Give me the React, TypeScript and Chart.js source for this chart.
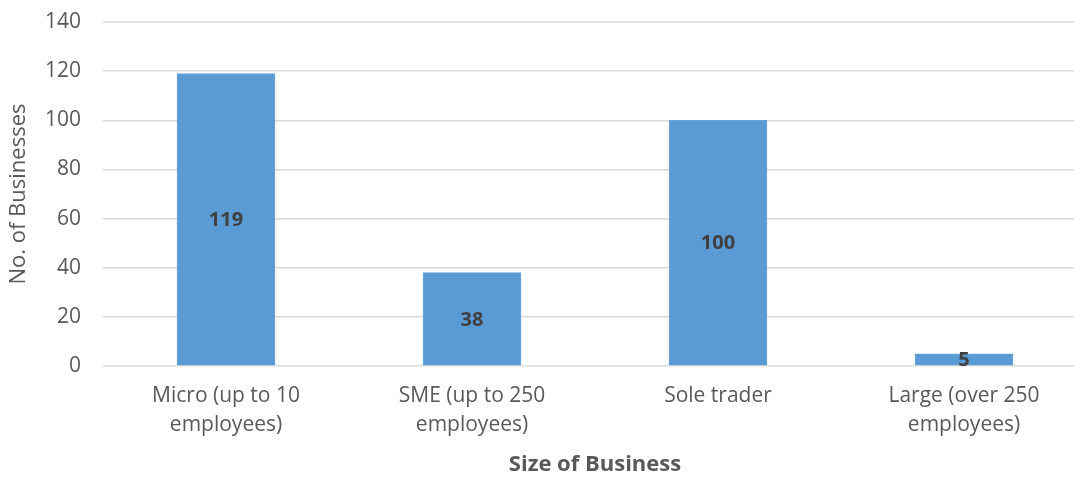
import React, { useEffect, useRef } from "react";
import { Chart, registerables } from "chart.js";

Chart.register(...registerables);

const categories: string[][] = [
  ["Micro (up to 10", "employees)"],
  ["SME (up to 250", "employees)"],
  ["Sole trader"],
  ["Large (over 250", "employees)"],
];
const businessCounts: number[] = [119, 38, 100, 5];
const yTicks: number[] = [0, 20, 40, 60, 80, 100, 120, 140];

const FONT = "'Open Sans', 'DejaVu Sans', sans-serif";

const barLabelPlugin = {
  id: "barLabels",
  afterDatasetsDraw(chart: any) {
    const ctx = chart.ctx;
    const meta = chart.getDatasetMeta(0);
    const data = chart.data.datasets[0].data as number[];
    ctx.save();
    ctx.font = `bold 20px ${FONT}`;
    ctx.fillStyle = "#404040";
    ctx.textAlign = "center";
    ctx.textBaseline = "middle";
    meta.data.forEach((el: any, i: number) => {
      const cy = (el.y + el.base) / 2;
      ctx.fillText(String(data[i]), el.x, cy + 1);
    });
    ctx.restore();
  },
};

export default function App() {
  const ref = useRef<HTMLCanvasElement | null>(null);
  useEffect(() => {
    if (!ref.current) return;
    const chart = new Chart(ref.current, {
      type: "bar",
      data: {
        labels: categories,
        datasets: [
          {
            data: businessCounts,
            backgroundColor: "#5B9BD5",
            borderColor: "#6BA5DA",
            borderWidth: 1,
            barThickness: 98,
          },
        ],
      },
      options: {
        animation: false,
        responsive: false,
        maintainAspectRatio: false,
        layout: { padding: { top: 22, right: 0, left: 0, bottom: 0 } },
        plugins: {
          legend: { display: false },
          tooltip: { enabled: false },
        },
        scales: {
          x: {
            grid: { display: false, drawTicks: false },
            border: { display: false },
            ticks: {
              color: "#595959",
              font: { family: FONT, size: 21, lineHeight: 1.35 },
              padding: 16,
              maxRotation: 0,
              autoSkip: false,
            },
            title: {
              display: true,
              text: "Size of Business",
              color: "#595959",
              font: { family: FONT, size: 22, weight: "bold" },
              padding: { top: 6, bottom: 0 },
            },
            afterFit(scale: any) {
              scale.height = 112;
              scale.paddingLeft = 0;
              scale.paddingRight = 0;
            },
          },
          y: {
            min: 0,
            max: 140,
            afterBuildTicks(scale: any) {
              scale.ticks = yTicks.map((v) => ({ value: v }));
            },
            grid: { color: "#d9d9d9", lineWidth: 1.5, drawTicks: false },
            border: { display: false },
            ticks: {
              color: "#595959",
              font: { family: FONT, size: 21 },
              padding: 22,
            },
            title: {
              display: true,
              text: "No. of Businesses",
              color: "#595959",
              font: { family: FONT, size: 22 },
              padding: { top: 6, bottom: 4 },
            },
            afterFit(scale: any) {
              scale.width = 103;
              scale.paddingTop = 0;
              scale.paddingBottom = 0;
            },
          },
        },
      },
      plugins: [barLabelPlugin],
    });
    return () => chart.destroy();
  }, []);

  return (
    <div
      style={{
        position: "fixed",
        left: 0,
        top: 0,
        width: 1074,
        height: 478,
        overflow: "hidden",
        background: "#fff",
      }}
    >
      <canvas ref={ref} width={1087} height={478} style={{ display: "block" }} />
    </div>
  );
}
